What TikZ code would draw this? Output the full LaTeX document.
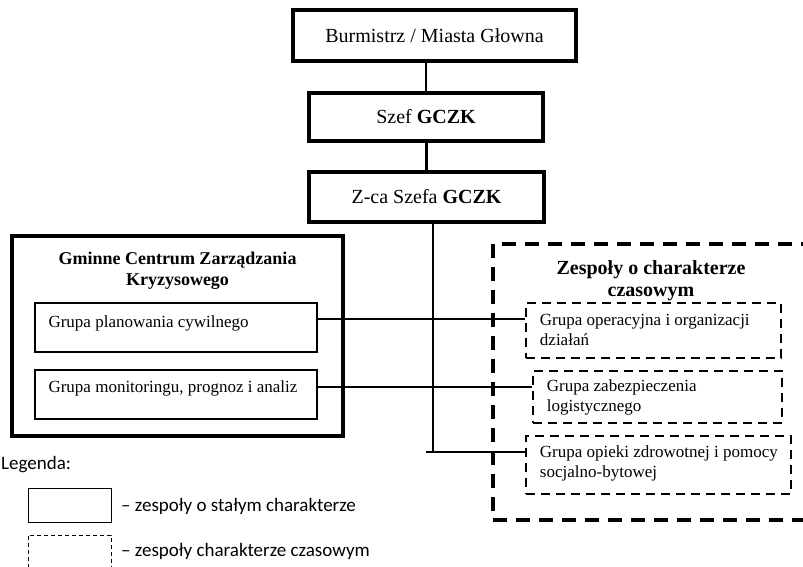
\documentclass[tikz,border=0pt]{standalone}
\usepackage{fontspec}
\setmainfont{Liberation Serif}
\newfontfamily\legendfont{Carlito}
\begin{document}
\begin{tikzpicture}[x=1pt,y=-1pt,
  headbox/.style={draw,line width=4pt,inner sep=0pt,
    font=\fontsize{20}{24}\selectfont},
  centrebox/.style={draw,line width=4pt,inner sep=0pt},
  groupbox/.style={draw,line width=1.3pt,inner sep=0pt},
  tempframe/.style={draw,line width=4.5pt,dash pattern=on 14pt off 9pt,inner sep=0pt},
  tempbox/.style={draw,line width=2.5pt,dash pattern=on 9pt off 6pt,inner sep=0pt},
  grouptext/.style={inner sep=0pt,align=left,anchor=north west,
    font=\fontsize{17}{20}\selectfont},
  titletext/.style={inner sep=0pt,align=center,anchor=north,font=\bfseries},
  link/.style={line width=2.3pt},
  legendtext/.style={inner sep=0pt,anchor=west,font=\legendfont\fontsize{19}{23}\selectfont},
]
\useasboundingbox (0,0) rectangle (803,567);
\clip (0,0) rectangle (803,567);

% chain of command
\node[headbox,minimum width=283pt,minimum height=51pt] (bur) at (434.5,35.5) {Burmistrz / Miasta Głowna};
\node[headbox,minimum width=234pt,minimum height=48pt] (szef) at (426,117) {Szef \textbf{GCZK}};
\node[headbox,minimum width=235pt,minimum height=50pt] (zca) at (426.5,197) {Z-ca Szefa \textbf{GCZK}};

% permanent crisis centre
\node[centrebox,minimum width=331pt,minimum height=200pt] (gczk) at (177.5,336) {};
\node[titletext,font=\bfseries\fontsize{18}{21.5}\selectfont] (gczkt) at (177.5,251.5)
  {Gminne Centrum Zarządzania\\Kryzysowego};
\node[groupbox,minimum width=282pt,minimum height=49pt] (g1) at (176,327.5) {};
\node[grouptext] (g1t) at ([xshift=14pt,yshift=-13.4pt]g1.north west) {Grupa planowania cywilnego};
\node[groupbox,minimum width=282pt,minimum height=49pt] (g2) at (176,394.5) {};
\node[grouptext] (g2t) at ([xshift=14pt,yshift=-11.4pt]g2.north west) {Grupa monitoringu, prognoz i analiz};

% temporary teams (frame runs off the right edge)
\node[tempframe,minimum width=322pt,minimum height=276pt] (zesp) at (654,382) {};
\node[titletext,font=\bfseries\fontsize{20}{21.5}\selectfont] (zespt) at (651,260.5)
  {Zespoły o charakterze\\czasowym};
\node[tempbox,minimum width=255pt,minimum height=55pt] (d1) at (653.5,330.5) {};
\node[grouptext] (d1t) at ([xshift=15pt,yshift=-12.5pt]d1.north west) {Grupa operacyjna i organizacji\\działań};
\node[tempbox,minimum width=249pt,minimum height=52pt] (d2) at (657.5,397) {};
\node[grouptext] (d2t) at ([xshift=15pt,yshift=-9.4pt]d2.north west) {Grupa zabezpieczenia\\logistycznego};
\node[tempbox,minimum width=265pt,minimum height=58pt] (d3) at (658.5,465) {};
\node[grouptext] (d3t) at ([xshift=15pt,yshift=-10.4pt]d3.north west) {Grupa opieki zdrowotnej i pomocy\\socjalno-bytowej};

% connectors
\draw[link] (szef.north) -- (szef.north |- bur.south);
\draw[link] (zca.north) -- (zca.north |- szef.south);
\coordinate (trunk) at (433,452);
\coordinate (tail) at (426,452);
\draw[link] (trunk |- zca.south) -- (trunk);
\draw[link] (g1.east |- 0,319) -- (d1.west |- 0,319);
\draw[link] (g2.east |- 0,387) -- (d2.west |- 0,387);
\draw[link] (tail) -- (d3.west |- tail);

% legend
\node[legendtext] (leg) at (1,465) {Legenda:};
\node[draw,line width=1pt,minimum width=83pt,minimum height=34pt,inner sep=0pt] (lsolid) at (69.5,505) {};
\node[legendtext] (lsolidt) at (121,506) {– zespoły o stałym charakterze};
\node[draw,line width=1pt,dash pattern=on 4pt off 3pt,minimum width=83pt,minimum height=50pt,inner sep=0pt] (ldash) at (69.5,560) {};
\node[legendtext] (ldasht) at (121,551) {– zespoły charakterze czasowym};
\end{tikzpicture}
\end{document}
